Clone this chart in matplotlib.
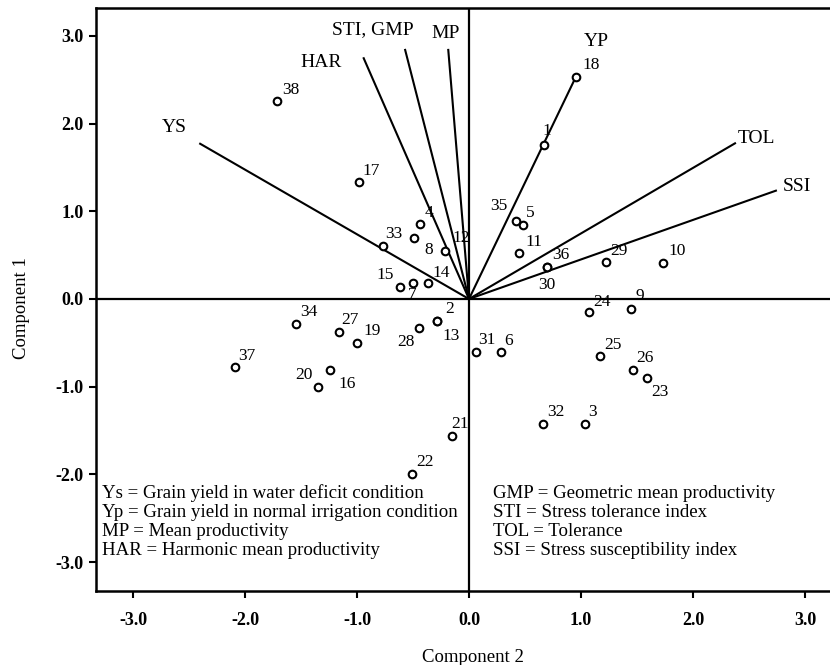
import numpy as np
import matplotlib
matplotlib.use('Agg')
import matplotlib.pyplot as plt

plt.rcParams['font.family'] = ['Liberation Serif', 'DejaVu Serif']

# ── Data ──────────────────────────────────────────────────────────
genotypes = [str(i) for i in range(1, 39)]
comp2 = [0.67, -0.29, 1.04, -0.44, 0.48, 0.29, -0.50, -0.49, 1.45, 1.73,
         0.45, -0.21, -0.29, -0.37, -0.62, -1.24, -0.98, 0.955, -1.00, -1.35,
         -0.15, -0.51, 1.59, 1.07, 1.17, 1.46, -1.16, -0.45, 1.22, 0.70,
         0.06, 0.66, -0.77, -1.54, 0.42, 0.70, -2.09, -1.71]
comp1 = [1.76, -0.25, -1.43, 0.86, 0.84, -0.61, 0.18, 0.70, -0.12, 0.41,
         0.52, 0.55, -0.25, 0.18, 0.14, -0.81, 1.33, 2.535, -0.50, -1.00,
         -1.56, -2.00, -0.90, -0.15, -0.65, -0.81, -0.38, -0.33, 0.42, 0.37,
         -0.61, -1.43, 0.60, -0.28, 0.89, 0.37, -0.78, 2.26]

traits = ['YS', 'HAR', 'STI, GMP', 'MP', 'YP', 'TOL', 'SSI']
trait_x = [-2.40, -0.94, -0.57, -0.185, 0.955, 2.375, 2.74]
trait_y = [1.77, 2.745, 2.84, 2.84, 2.535, 1.775, 1.235]

left_notes = ['Ys = Grain yield in water deficit condition',
              'Yp = Grain yield in normal irrigation condition',
              'MP = Mean productivity',
              'HAR = Harmonic mean productivity']
right_notes = ['GMP = Geometric mean productivity',
               'STI = Stress tolerance index',
               'TOL = Tolerance',
               'SSI = Stress susceptibility index']

ticks = [-3, -2, -1, 0, 1, 2, 3]

# label offsets from each marker, in pixels (dx right, dy up)
lab_off = {'1': (3, 14), '2': (13, 12), '3': (7, 12), '4': (9, 11), '5': (7, 12),
           '6': (7, 11), '7': (-1, -12), '8': (15, -12), '9': (8, 13), '10': (14, 12),
           '11': (14, 11), '12': (16, 13), '13': (15, -15), '14': (14, 10),
           '15': (-14, 12), '16': (17, -14), '17': (12, 11), '18': (15, 12),
           '19': (15, 12), '20': (-14, 12), '21': (8, 12), '22': (13, 12),
           '23': (13, -14), '24': (13, 10), '25': (13, 11), '26': (12, 12),
           '27': (11, 12), '28': (-13, -14), '29': (13, 11), '30': (-1, -18),
           '31': (11, 12), '32': (13, 12), '33': (11, 12), '34': (12, 12),
           '35': (-17, 15), '36': (13, 12), '37': (12, 11), '38': (13, 11)}
# trait label positions (data units) and alignment
trait_lab = {'YS': (-2.63, 1.95, 'center'), 'HAR': (-1.32, 2.70, 'center'),
             'STI, GMP': (-0.86, 3.07, 'center'), 'MP': (-0.205, 3.03, 'center'),
             'YP': (1.14, 2.94, 'center'), 'TOL': (2.40, 1.835, 'left'),
             'SSI': (2.80, 1.28, 'left')}

# ── Figure ────────────────────────────────────────────────────────
W, H = 830, 665
fig = plt.figure(figsize=(W / 100, H / 100), dpi=100, facecolor='white')
ax = fig.add_axes([96 / W, (H - 591) / H, (W - 96) / W, (591 - 8) / H])
ax.set_xlim(-3.33, 3.223)
ax.set_ylim(-3.33, 3.318)

ax.axhline(0, color='black', lw=1.6, zorder=1)
ax.axvline(0, color='black', lw=1.6, zorder=1)

for name, tx, ty in zip(traits, trait_x, trait_y):
    ax.plot([0, tx], [0, ty], color='black', lw=1.5, zorder=2)
    lx, ly, ha = trait_lab[name]
    ax.text(lx, ly, name, ha=ha, va='center', fontsize=14, zorder=4)

ax.scatter(comp2, comp1, s=30, facecolors='white', edgecolors='black',
           linewidths=1.5, zorder=3)
for g, x, y in zip(genotypes, comp2, comp1):
    dx, dy = lab_off[g]
    ax.annotate(g, (x, y), xytext=(dx * 0.72, dy * 0.72),
                textcoords='offset points', ha='center', va='center',
                fontsize=12.5, zorder=4)

for i, (l, r) in enumerate(zip(left_notes, right_notes)):
    yy = 0.168 - i * 0.0326
    ax.text(0.008, yy, l, transform=ax.transAxes, ha='left', va='center',
            fontsize=13.6)
    ax.text(0.541, yy, r, transform=ax.transAxes, ha='left', va='center',
            fontsize=13.6)

ax.set_xticks(ticks)
ax.set_yticks(ticks)
ax.set_xticklabels([f'{t:.1f}' for t in ticks], fontweight='bold', fontsize=13)
ax.set_yticklabels([f'{t:.1f}' for t in ticks], fontweight='bold', fontsize=13)
ax.tick_params(direction='out', length=5, width=1.5, pad=4)
ax.tick_params(axis='x', pad=10)

for side in ['left', 'top', 'bottom']:
    ax.spines[side].set_linewidth(1.8)
ax.spines['right'].set_visible(False)

fig.text(473 / W, 1 - 657 / H, 'Component 2', ha='center', va='center',
         fontsize=13.5)
fig.text(22 / W, 1 - 308 / H, 'Component 1', ha='center', va='center',
         rotation=90, fontsize=13.5)

fig.savefig('out.png', dpi=100, facecolor='white')
